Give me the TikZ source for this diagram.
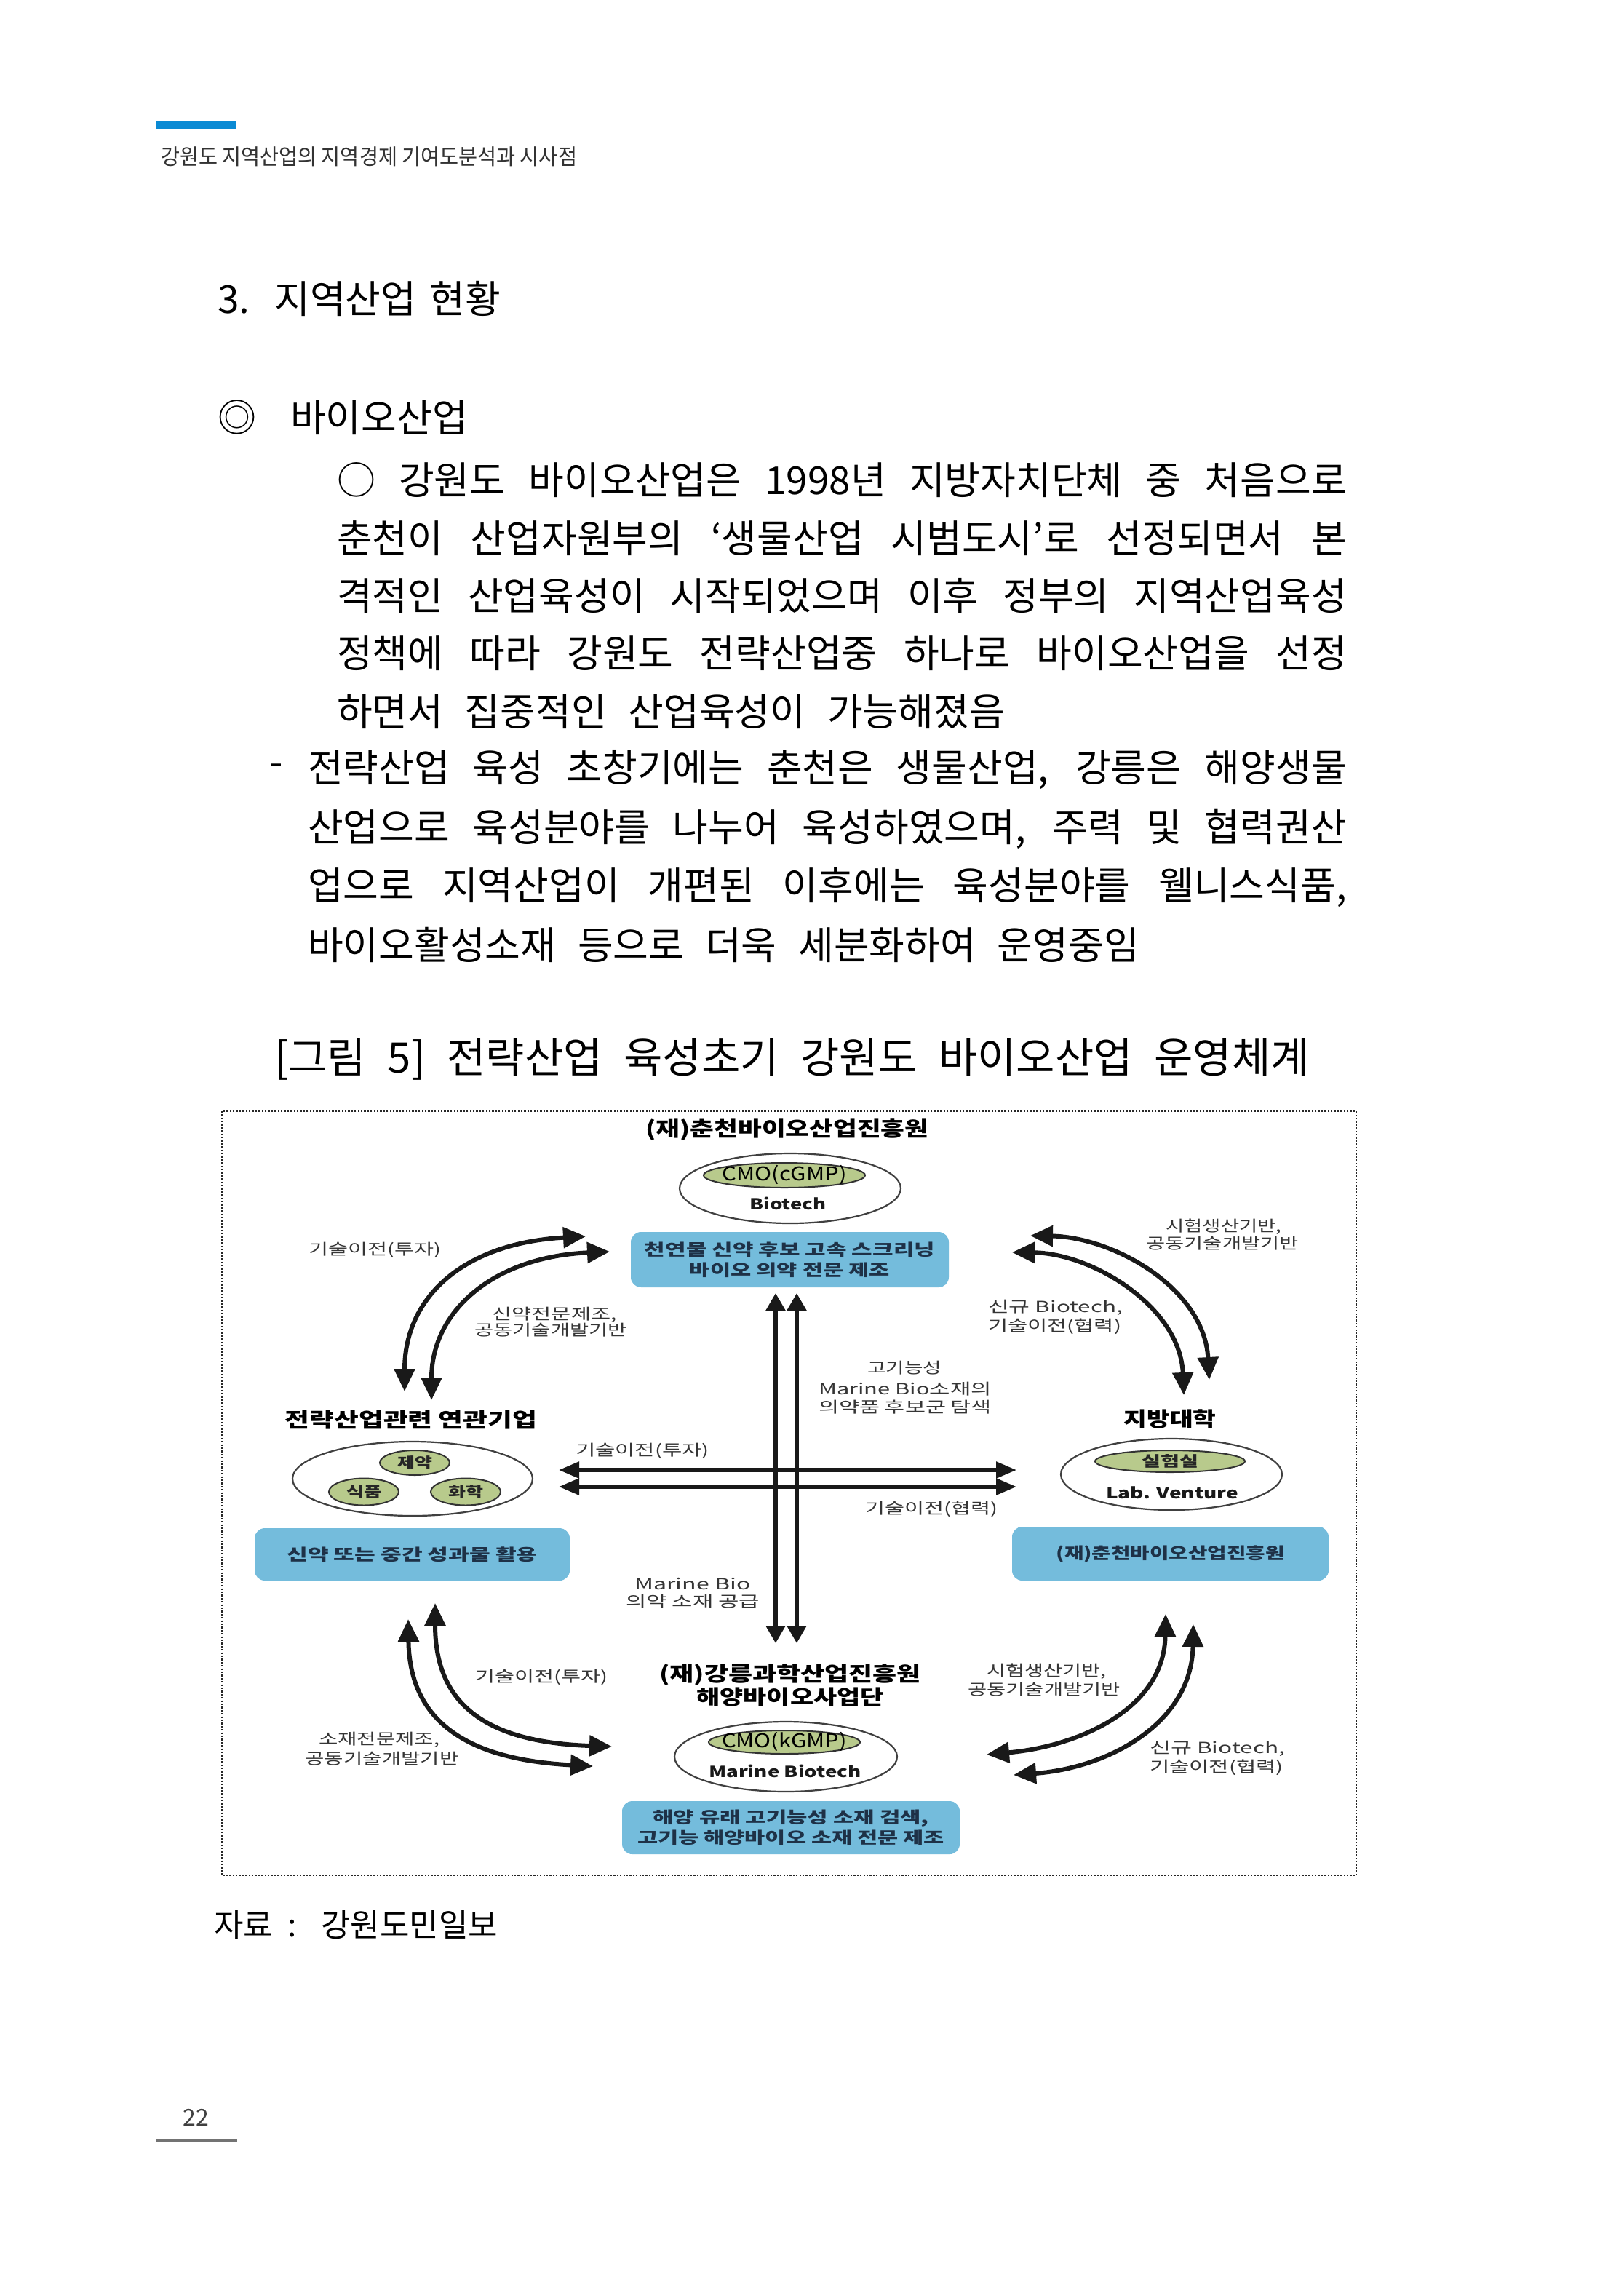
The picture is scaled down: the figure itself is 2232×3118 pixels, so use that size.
\documentclass[tikz,border=0pt]{standalone}
\usepackage{fontspec}
\usepackage{graphicx}
\newfontfamily\kr{Noto Sans CJK KR}
\usetikzlibrary{arrows.meta,shapes.geometric}
\definecolor{hdrblue}{HTML}{0A8AD4}
\definecolor{boxblue}{HTML}{74BCDC}
\definecolor{boxtxt}{HTML}{1E3147}
\definecolor{ellgreen}{HTML}{B8CA8C}
\definecolor{lblgray}{HTML}{353535}
\definecolor{hdrgray}{HTML}{333333}
\newcommand\fw[2]{\resizebox{#1pt}{\height}{#2}}
\newcommand\sw[2]{\makebox[#1pt][s]{#2}}
\begin{document}
\begin{tikzpicture}[x=1pt,y=-1pt,
  every node/.style={inner sep=0pt, outer sep=0pt},
  bodytxt/.style={anchor=west, font=\kr\fontsize{53}{60}\selectfont, text=black},
  lbl/.style={font=\kr\fontsize{21}{24}\selectfont, text=lblgray},
  ttl/.style={font=\kr\bfseries\fontsize{28}{31}\selectfont, text=black},
  bluebox/.style={draw=none, fill=boxblue, rounded corners=14pt, font=\kr\bfseries\fontsize{22}{28}\selectfont, text=boxtxt, align=center},
  bigell/.style={ellipse, draw=black!75, line width=2.2pt, fill=white},
  greenell/.style={ellipse, draw=black!80, line width=2pt, fill=ellgreen, text=black!85, font=\kr\bfseries\fontsize{20}{20}\selectfont},
  cmotxt/.style={font=\kr\fontsize{26}{26}\selectfont},
  engtxt/.style={font=\kr\bfseries\fontsize{21}{21}\selectfont, text=black!90},
  arcarrow/.style={line width=6pt, draw=black!90, {Triangle[length=31pt,width=28pt]}-{Triangle[length=31pt,width=28pt]}},
  varrow/.style={line width=5.5pt, draw=black!90, {Triangle[length=24pt,width=26pt]}-{Triangle[length=24pt,width=26pt]}},
  harrow/.style={line width=5.5pt, draw=black!90, {Triangle[length=28pt,width=22pt]}-{Triangle[length=28pt,width=22pt]}},
  framebox/.style={draw=black!85, line width=2.2pt, dash pattern=on 2.2pt off 2.2pt}
]
\useasboundingbox (0,0) rectangle (2232,3118);
\fill[white] (0,0) rectangle (2232,3118);

% ---------- page header ----------
\fill[hdrblue] (215,166) rectangle (325,177);
\node[anchor=west, font=\kr\fontsize{30}{34}\selectfont, text=hdrgray] (hdr) at (221,215) {\fw{572}{강원도 지역산업의 지역경제 기여도분석과 시사점}};

% ---------- body text ----------
\node[bodytxt] (sec) at (299,410) {\sw{389}{3. 지역산업 현황}};
\node[bodytxt] (sub) at (299,574) {\sw{344}{◎ 바이오산업}};
\node[bodytxt] (p1) at (463,660) {\sw{1388}{○ 강원도 바이오산업은 1998년 지방자치단체 중 처음으로}};
\node[bodytxt] (p2) at (463,740) {\sw{1388}{춘천이 산업자원부의 ‘생물산업 시범도시’로 선정되면서 본}};
\node[bodytxt] (p3) at (463,819) {\sw{1388}{격적인 산업육성이 시작되었으며 이후 정부의 지역산업육성}};
\node[bodytxt] (p4) at (463,898) {\sw{1388}{정책에 따라 강원도 전략산업중 하나로 바이오산업을 선정}};
\node[bodytxt] (p5) at (463,978) {\sw{918}{하면서 집중적인 산업육성이 가능해졌음}};
\node[bodytxt, anchor=center] (dash) at (380,1058) {-};
\node[bodytxt] (d1) at (423,1058) {\sw{1428}{전략산업 육성 초창기에는 춘천은 생물산업, 강릉은 해양생물}};
\node[bodytxt] (d2) at (423,1139) {\sw{1428}{산업으로 육성분야를 나누어 육성하였으며, 주력 및 협력권산}};
\node[bodytxt] (d3) at (423,1219) {\sw{1428}{업으로 지역산업이 개편된 이후에는 육성분야를 웰니스식품,}};
\node[bodytxt] (d4) at (423,1298) {\sw{1143}{바이오활성소재 등으로 더욱 세분화하여 운영중임}};

% ---------- caption ----------
\node[anchor=west, font=\kr\fontsize{58}{62}\selectfont] (cap) at (377,1455) {\sw{1423}{[그림 5] 전략산업 육성초기 강원도 바이오산업 운영체계}};

% ---------- frame ----------
\draw[framebox] (305,1527) rectangle (1864,2577);

% ---------- top group ----------
\node[ttl] (cttl) at (1082,1552) {\fw{389}{(재)춘천바이오산업진흥원}};
\node[bigell, minimum width=304pt, minimum height=96pt] (cell) at (1086,1633) {};
\node[greenell, minimum width=222pt, minimum height=34pt] (ccmo) at (1078,1615) {};
\node[cmotxt] (ccmot) at (1078,1614) {\fw{171}{CMO(cGMP)}};
\node[engtxt] (cbio) at (1083,1654) {\fw{105}{Biotech}};
\node[bluebox, minimum width=437pt, minimum height=76pt] (cbox) at (1085.5,1731) {\fw{399}{천연물 신약 후보 고속 스크리닝}\\\fw{275}{바이오 의약 전문 제조}};

% ---------- left group ----------
\node[ttl] (lttl) at (565,1951) {\fw{346}{전략산업관련 연관기업}};
\node[bigell, minimum width=330pt, minimum height=102pt] (lell) at (567,2032) {};
\node[greenell, minimum width=96pt, minimum height=34pt] (g1) at (570,2010) {\fw{48}{제약}};
\node[greenell, minimum width=96pt, minimum height=37pt] (g2) at (500,2050) {\fw{48}{식품}};
\node[greenell, minimum width=96pt, minimum height=37pt] (g3) at (640,2050) {\fw{48}{화학}};
\node[bluebox, minimum width=433pt, minimum height=72pt] (lbox) at (566.5,2136) {\fw{344}{신약 또는 중간 성과물 활용}};

% ---------- right group ----------
\node[ttl] (rttl) at (1608,1950) {\fw{127}{지방대학}};
\node[bigell, minimum width=304pt, minimum height=98pt] (rell) at (1610,2026) {};
\node[greenell, minimum width=206pt, minimum height=30pt] (g4) at (1608,2008) {\fw{78}{실험실}};
\node[engtxt] (rlab) at (1611,2051) {\fw{182}{Lab. Venture}};
\node[bluebox, minimum width=435pt, minimum height=74pt] (rbox) at (1608.5,2135) {\fw{314}{(재)춘천바이오산업진흥원}};

% ---------- bottom group ----------
\node[ttl] (bttl1) at (1086,2301) {\fw{359}{(재)강릉과학산업진흥원}};
\node[ttl] (bttl2) at (1086,2332) {\fw{257}{해양바이오사업단}};
\node[bigell, minimum width=306pt, minimum height=96pt] (bell) at (1080,2414) {};
\node[greenell, minimum width=208pt, minimum height=32pt] (bcmo) at (1078,2394) {};
\node[cmotxt] (bcmot) at (1078,2393) {\fw{172}{CMO(kGMP)}};
\node[engtxt] (bmar) at (1079,2434) {\fw{210}{Marine Biotech}};
\node[bluebox, minimum width=464pt, minimum height=73pt] (bbox) at (1087,2511.5) {\fw{379}{해양 유래 고기능성 소재 검색,}\\\fw{422}{고기능 해양바이오 소재 전문 제조}};

% ---------- labels ----------
\node[lbl] (t1) at (515,1718) {\fw{182}{기술이전(투자)}};
\node[lbl] (t2a) at (762,1807) {\fw{171}{신약전문제조,}};
\node[lbl] (t2b) at (757,1828) {\fw{209}{공동기술개발기반}};
\node[lbl] (t3a) at (1682,1686) {\fw{159}{시험생산기반,}};
\node[lbl] (t3b) at (1680,1709) {\fw{209}{공동기술개발기반}};
\node[lbl, anchor=west] (t4a) at (1358,1797) {\fw{185}{신규 Biotech,}};
\node[lbl, anchor=west] (t4b) at (1358,1823) {\fw{183}{기술이전(협력)}};
\node[lbl] (t5a) at (1243,1880) {\fw{102}{고기능성}};
\node[lbl] (t5b) at (1244,1909) {\fw{238}{Marine Bio소재의}};
\node[lbl] (t5c) at (1244,1934) {\fw{238}{의약품 후보군 탐색}};
\node[lbl] (t6) at (883,1994) {\fw{184}{기술이전(투자)}};
\node[lbl] (t7) at (1280,2074) {\fw{182}{기술이전(협력)}};
\node[lbl] (t8a) at (952,2176) {\fw{159}{Marine Bio}};
\node[lbl] (t8b) at (952,2201) {\fw{184}{의약 소재 공급}};
\node[lbl] (t9) at (744,2305) {\fw{182}{기술이전(투자)}};
\node[lbl] (t10a) at (521,2391) {\fw{166}{소재전문제조,}};
\node[lbl] (t10b) at (525,2417) {\fw{211}{공동기술개발기반}};
\node[lbl] (t11a) at (1438,2297) {\fw{164}{시험생산기반,}};
\node[lbl] (t11b) at (1435,2322) {\fw{209}{공동기술개발기반}};
\node[lbl, anchor=west] (t12a) at (1580,2403) {\fw{186}{신규 Biotech,}};
\node[lbl, anchor=west] (t12b) at (1580,2429) {\fw{184}{기술이전(협력)}};

% ---------- arrow end points ----------
\coordinate (a1s) at (556,1912);  \coordinate (a1e) at (805,1699);
\coordinate (a2s) at (593,1924);  \coordinate (a2e) at (838,1720);
\coordinate (a3s) at (1416,1698); \coordinate (a3e) at (1662,1896);
\coordinate (a4s) at (1391,1721); \coordinate (a4e) at (1627,1917);
\coordinate (a5s) at (561,2225);  \coordinate (a5e) at (815,2427);
\coordinate (a6s) at (598,2203);  \coordinate (a6e) at (841,2400);
\coordinate (a7s) at (1602,2218); \coordinate (a7e) at (1356,2411);
\coordinate (a8s) at (1640,2232); \coordinate (a8e) at (1393,2439);
\coordinate (v1t) at (1066,1777); \coordinate (v1b) at (1066,2258);
\coordinate (v2t) at (1095,1777); \coordinate (v2b) at (1095,2258);
\coordinate (h1l) at (768,2020);  \coordinate (h1r) at (1397,2020);
\coordinate (h2l) at (768,2043);  \coordinate (h2r) at (1397,2043);

% ---------- curved arrows ----------
\draw[arcarrow] (a1s) .. controls (556,1780) and (640,1708) .. (a1e);
\draw[arcarrow] (a2s) .. controls (593,1800) and (680,1727) .. (a2e);
\draw[arcarrow] (a3s) .. controls (1530,1700) and (1655,1770) .. (a3e);
\draw[arcarrow] (a4s) .. controls (1500,1722) and (1622,1795) .. (a4e);
\draw[arcarrow] (a5s) .. controls (563,2368) and (645,2418) .. (a5e);
\draw[arcarrow] (a6s) .. controls (598,2338) and (662,2394) .. (a6e);
\draw[arcarrow] (a7s) .. controls (1600,2350) and (1480,2400) .. (a7e);
\draw[arcarrow] (a8s) .. controls (1638,2370) and (1520,2430) .. (a8e);

% ---------- straight arrows ----------
\draw[varrow] (v1t) -- (v1b);
\draw[varrow] (v2t) -- (v2b);
\draw[harrow] (h1l) -- (h1r);
\draw[harrow] (h2l) -- (h2r);

% ---------- source & page ----------
\node[anchor=west, font=\kr\fontsize{44}{50}\selectfont] (src) at (294,2645) {\sw{390}{자료 : 강원도민일보}};
\node[font=\kr\fontsize{32}{36}\selectfont, text=black!75] (pg) at (269,2910) {22};
\coordinate (pgl) at (215,2942); \coordinate (pgr) at (326,2942);
\draw[line width=4pt, draw=black!55] (pgl) -- (pgr);
\end{tikzpicture}
\end{document}
